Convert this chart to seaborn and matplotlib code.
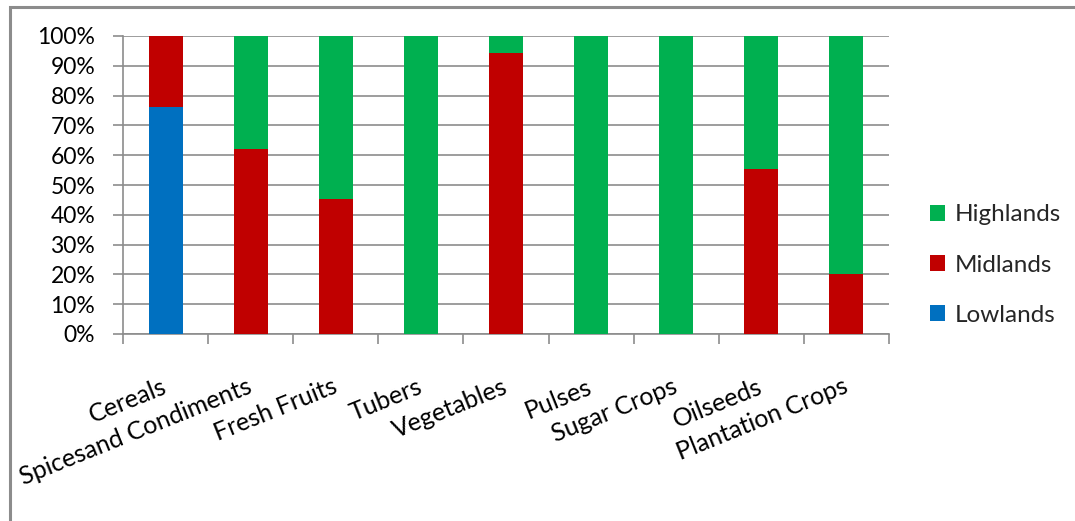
import matplotlib
matplotlib.use("Agg")
import matplotlib.pyplot as plt
from matplotlib.patches import Rectangle, Patch
from matplotlib.ticker import PercentFormatter, FixedLocator
import numpy as np
import pandas as pd
import seaborn as sns

# Share of each crop group by altitude zone (fractions of 1)
categories = ["Cereals", "Spicesand Condiments", "Fresh Fruits", "Tubers", "Vegetables",
              "Pulses", "Sugar Crops", "Oilseeds", "Plantation Crops"]
lowlands = [0.762, 0.0, 0.0, 0.0, 0.0, 0.0, 0.0, 0.0, 0.0]
midlands = [0.238, 0.622, 0.452, 0.0, 0.942, 0.0, 0.0, 0.555, 0.202]
highlands = [0.0, 0.378, 0.548, 1.0, 0.058, 1.0, 1.0, 0.445, 0.798]

zone_names = ["Highlands", "Midlands", "Lowlands"]
zone_colors = {"Highlands": "#00B050", "Midlands": "#C00000", "Lowlands": "#0070C0"}

sns.set_theme(style="white")
plt.rcParams["font.family"] = ["Lato", "DejaVu Sans"]

df = pd.DataFrame({"category": categories, "Lowlands": lowlands,
                   "Midlands": midlands, "Highlands": highlands})
df["top_mid"] = df["Lowlands"] + df["Midlands"]
df["top_high"] = df["top_mid"] + df["Highlands"]

fig = plt.figure(figsize=(10.75, 5.21), dpi=100)
ax = fig.add_axes([123 / 1075, 1 - 334 / 521, (889 - 123) / 1075, (334 - 36) / 521])

# Stacked bars: draw cumulative totals back to front
for col, zone in [("top_high", "Highlands"), ("top_mid", "Midlands"), ("Lowlands", "Lowlands")]:
    sns.barplot(data=df, x="category", y=col, color=zone_colors[zone], saturation=1,
                width=0.4, linewidth=0, ax=ax, order=categories, zorder=3)

grid_color = "#8C8C8C"
ax.set_ylim(0, 1)
ax.set_xlim(-0.5, len(categories) - 0.5)
ax.yaxis.set_major_locator(FixedLocator(np.arange(0, 1.01, 0.1)))
ax.yaxis.set_major_formatter(PercentFormatter(1.0, decimals=0))
ax.grid(axis="y", color=grid_color, linewidth=1.2, zorder=0)
ax.set_axisbelow(True)
ax.set_xlabel("")
ax.set_ylabel("")

for s in ["top", "right"]:
    ax.spines[s].set_visible(False)
for s in ["left", "bottom"]:
    ax.spines[s].set_color(grid_color)
    ax.spines[s].set_linewidth(1.2)

ax.tick_params(axis="y", length=7, width=1.2, color=grid_color, pad=13,
               labelsize=16.5, labelcolor="black", left=True)

# Category labels at bar centres, tick marks at category boundaries
ax.set_xticks(range(len(categories)))
ax.set_xticklabels(categories, rotation=22, ha="right", rotation_mode="anchor",
                   va="center", fontsize=18, color="black")
ax.tick_params(axis="x", which="major", length=0, pad=37)
ax.set_xticks(np.arange(-0.5, len(categories), 1.0), minor=True)
ax.tick_params(axis="x", which="minor", length=7, width=1.2, color=grid_color, bottom=True)

handles = [Patch(facecolor=zone_colors[z], edgecolor="none") for z in zone_names]
fig.legend(handles, zone_names, loc="center left", bbox_to_anchor=(918 / 1075, 1 - 265 / 521),
           frameon=False, fontsize=17.5, handlelength=0.62, handleheight=0.62,
           handletextpad=0.4, labelspacing=1.2, borderpad=0)

# Chart area border
fig.patches.append(Rectangle((10 / 1075, -0.05), 1.1, 1 - 7 / 521 + 0.05, transform=fig.transFigure,
                             fill=False, edgecolor="#8C8C8C", linewidth=2.2))

fig.savefig("out.png", dpi=100)
